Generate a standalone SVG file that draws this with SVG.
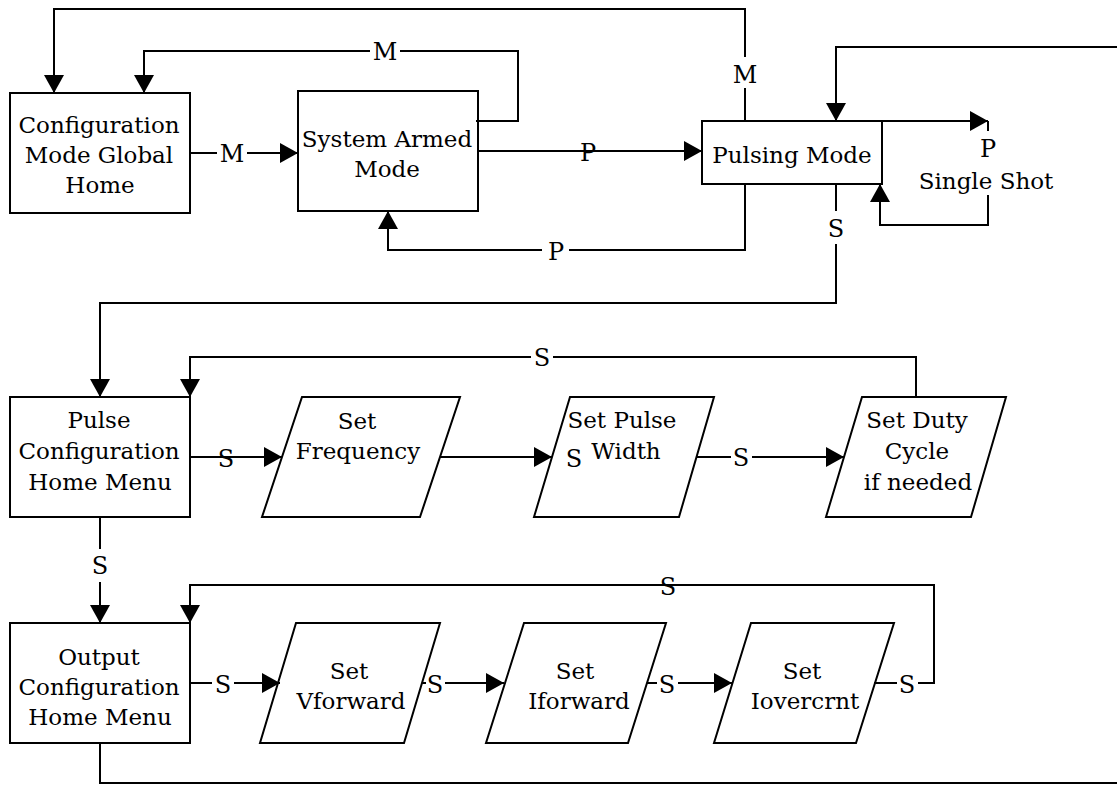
<svg xmlns="http://www.w3.org/2000/svg" width="1117" height="785" viewBox="0 0 1117 785">
<style>
.box{fill:#fff;stroke:#000;stroke-width:2}
.t{font-family:'DejaVu Serif','Liberation Serif',serif;font-size:23px;text-anchor:middle;fill:#000}
.l{font-family:'DejaVu Serif','Liberation Serif',serif;font-size:24px;text-anchor:middle;fill:#000}
.c{fill:none;stroke:#000;stroke-width:2}
</style>
<defs>
<marker id="ah" markerUnits="userSpaceOnUse" markerWidth="18" markerHeight="20" viewBox="0 0 18 20" refX="18" refY="10" orient="auto"><path d="M0,0L18,10L0,20z" fill="#000"/></marker>
</defs>
<rect width="1117" height="785" fill="#fff"/>
<g id="n-config"><rect class="box" x="10" y="93" width="180" height="120"/><text class="t" x="99" y="133">Configuration</text><text class="t" x="99" y="163">Mode Global</text><text class="t" x="100" y="193">Home</text></g>
<g id="n-armed"><rect class="box" x="298" y="91" width="180" height="120"/><text class="t" x="387" y="147">System Armed</text><text class="t" x="387" y="177">Mode</text></g>
<g id="n-pulsing"><rect class="box" x="702" y="121" width="180" height="63"/><text class="t" x="792" y="163">Pulsing Mode</text></g>
<g id="n-pulsecfg"><rect class="box" x="10" y="397" width="180" height="120"/><text class="t" x="99" y="428">Pulse</text><text class="t" x="99" y="459">Configuration</text><text class="t" x="100" y="490">Home Menu</text></g>
<g id="n-freq"><polygon class="box" points="302,397 460,397 420,517 262,517"/><text class="t" x="357" y="429">Set</text><text class="t" x="358" y="459">Frequency</text></g>
<g id="n-width"><polygon class="box" points="570,397 714,397 679,517 534,517"/><text class="t" x="622" y="428">Set Pulse</text><text class="t" x="626" y="459">Width</text></g>
<g id="n-duty"><polygon class="box" points="862,397 1006,397 971,517 826,517"/><text class="t" x="917" y="428">Set Duty</text><text class="t" x="917" y="459">Cycle</text><text class="t" x="918" y="490">if needed</text></g>
<g id="n-outcfg"><rect class="box" x="10" y="623" width="180" height="120"/><text class="t" x="99" y="665">Output</text><text class="t" x="99" y="695">Configuration</text><text class="t" x="100" y="725">Home Menu</text></g>
<g id="n-vfwd"><polygon class="box" points="296,623 440,623 404,743 260,743"/><text class="t" x="349" y="679">Set</text><text class="t" x="351" y="709">Vforward</text></g>
<g id="n-ifwd"><polygon class="box" points="524,623 666,623 628,743 486,743"/><text class="t" x="575" y="679">Set</text><text class="t" x="579" y="709">Iforward</text></g>
<g id="n-iover"><polygon class="box" points="751,623 894,623 856,743 714,743"/><text class="t" x="802" y="679">Set</text><text class="t" x="805" y="709">Iovercrnt</text></g>
<g id="connectors">
<path class="c" d="M745,121V88M745,57V9H54V93" marker-end="url(#ah)"/>
<text class="l" x="745" y="83">M</text>
<path class="c" d="M476,121H518V51H400M370,51H144V93" marker-end="url(#ah)"/>
<text class="l" x="385" y="60">M</text>
<path class="c" d="M190,153H217M247,153H298" marker-end="url(#ah)"/>
<text class="l" x="232" y="162">M</text>
<path class="c" d="M478,151H702" marker-end="url(#ah)"/>
<text class="l" x="588" y="161">P</text>
<path class="c" d="M745,184V250H569M542,250H388V211" marker-end="url(#ah)"/>
<text class="l" x="556" y="260">P</text>
<path class="c" d="M1117,47H836V121" marker-end="url(#ah)"/>
<path class="c" d="M882,121H988" marker-end="url(#ah)"/>
<path class="c" d="M988,121V131"/>
<text class="l" x="988" y="157">P</text>
<text class="t" x="986" y="189">Single Shot</text>
<path class="c" d="M988,195V225H880V184" marker-end="url(#ah)"/>
<path class="c" d="M836,184V211M836,244V303H100V397" marker-end="url(#ah)"/>
<text class="l" x="836" y="237">S</text>
<path class="c" d="M916,397V357H553M531,357H190V397" marker-end="url(#ah)"/>
<text class="l" x="542" y="366">S</text>
<path class="c" d="M190,457H282" marker-end="url(#ah)"/>
<text class="l" x="226" y="467">S</text>
<path class="c" d="M440,457H552" marker-end="url(#ah)"/>
<text class="l" x="574" y="467">S</text>
<path class="c" d="M697,457H731M752,457H844" marker-end="url(#ah)"/>
<text class="l" x="741" y="466">S</text>
<path class="c" d="M100,517V549M100,582V623" marker-end="url(#ah)"/>
<text class="l" x="100" y="574">S</text>
<path class="c" d="M190,683H212M234,683H280" marker-end="url(#ah)"/>
<text class="l" x="223" y="693">S</text>
<path class="c" d="M422,683H426M445,683H504" marker-end="url(#ah)"/>
<text class="l" x="435" y="693">S</text>
<path class="c" d="M647,683H657M678,683H732" marker-end="url(#ah)"/>
<text class="l" x="667" y="693">S</text>
<path class="c" d="M874,683H897M918,683H934V585H190V623" marker-end="url(#ah)"/>
<text class="l" x="907" y="693">S</text>
<text class="l" x="668" y="595">S</text>
<path class="c" d="M100,743V783H1117"/>
</g>
</svg>
